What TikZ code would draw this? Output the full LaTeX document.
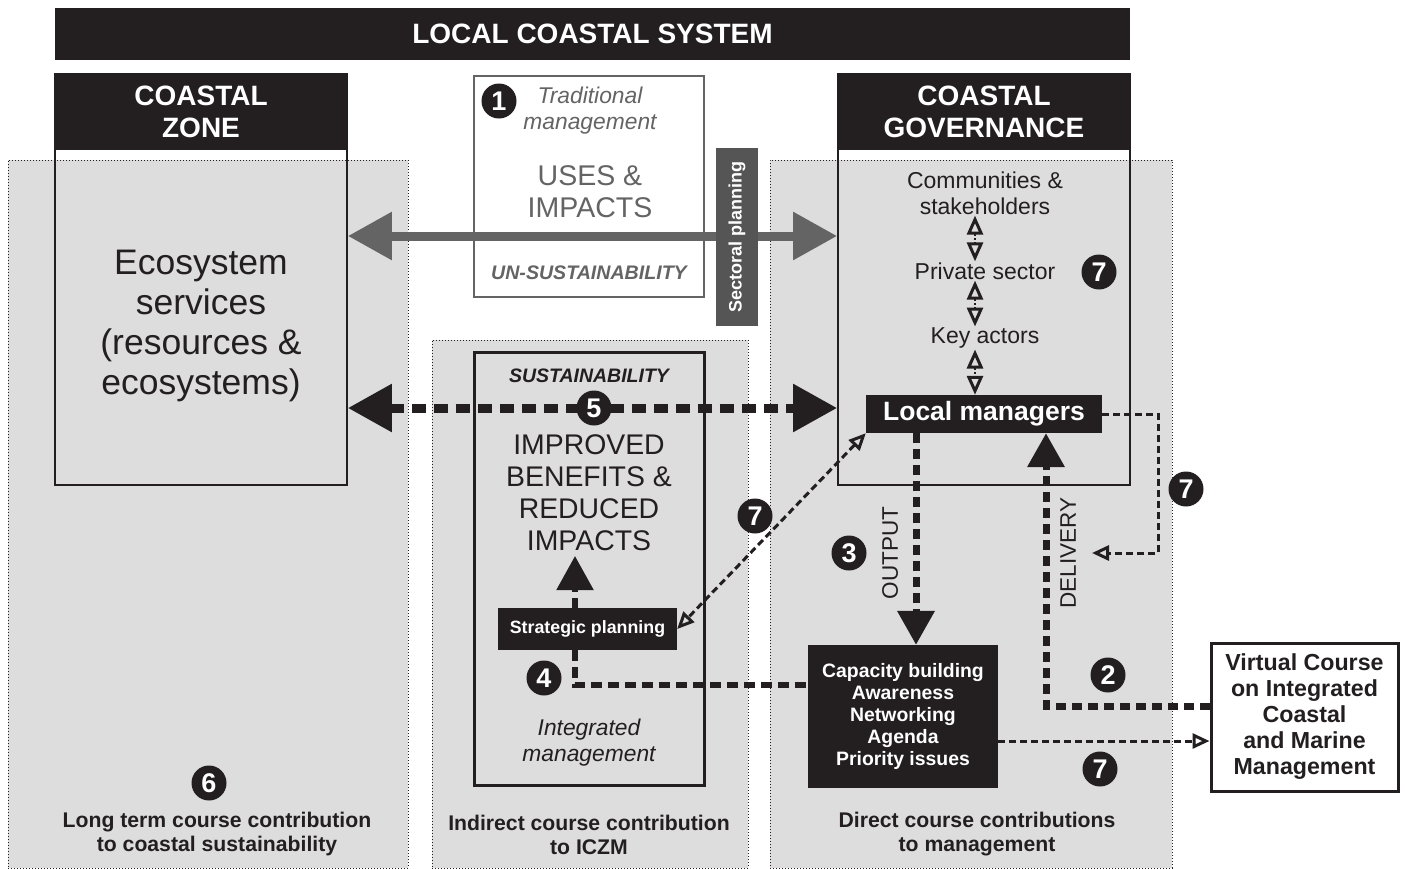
\documentclass[tikz,border=0pt]{standalone}
\usepackage{fontspec}
\setmainfont{Liberation Sans}
\usetikzlibrary{arrows.meta,calc}
\definecolor{ink}{RGB}{35,31,32}
\definecolor{panelgray}{RGB}{221,221,221}
\definecolor{midgray}{RGB}{100,100,100}
\definecolor{secgray}{RGB}{85,85,85}
\newcommand\myfs[2]{\fontsize{#1}{#2}\selectfont}
\begin{document}
\begin{tikzpicture}[x=1pt,y=-1pt,
 panel/.style={fill=panelgray, draw=ink, line width=1pt, dash pattern=on 1pt off 2pt, inner sep=0pt},
 frame/.style={draw=ink, line width=1.8pt, inner sep=0pt},
 hdr/.style={fill=ink, text=white, font=\myfs{28}{32}\bfseries, align=center, inner sep=0pt},
 blk/.style={fill=ink, text=white, align=center, inner sep=0pt},
 txt/.style={inner sep=1pt, align=center, text=ink},
 num/.style={circle, fill=ink, text=white, font=\myfs{27}{27}\bfseries, minimum size=35pt, inner sep=0pt},
 bigtip/.tip={Triangle[length=44pt,width=46pt]},
 medtip/.tip={Triangle[length=34pt,width=36pt]},
 opentip/.tip={Triangle[open,length=17pt,width=15pt,line width=3pt]},
 smalltip/.tip={Triangle[open,length=19pt,width=16pt,line width=3pt]},
 grayarr/.style={draw=midgray, line width=9pt, bigtip-bigtip},
 blkarr/.style={draw=ink, line width=9pt, dash pattern=on 14pt off 8pt, bigtip-bigtip},
 medarr/.style={draw=ink, line width=7pt, dash pattern=on 10pt off 6pt, -medtip},
 dashfour/.style={draw=ink, line width=5.5pt, dash pattern=on 11pt off 6pt},
 thinseven/.style={draw=ink, line width=3pt, dash pattern=on 7pt off 4pt},
 dbl/.style={draw=ink, line width=2pt, dash pattern=on 2pt off 2pt, smalltip-smalltip},
 bottomlbl/.style={txt, font=\myfs{21.2}{24}\bfseries},
]
\useasboundingbox (0,0) rectangle (1405,868);

% background panels
\node[panel, minimum width=400pt, minimum height=708pt] (lp) at (208,514) {};
\node[panel, minimum width=316pt, minimum height=528pt] (mp) at (590,604) {};
\node[panel, minimum width=402pt, minimum height=708pt] (rp) at (971,514) {};

% top bar
\node[hdr, minimum width=1075pt, minimum height=52pt] (lcs) at (592.5,34) {LOCAL COASTAL SYSTEM};

% coastal zone
\node[frame, minimum width=292pt, minimum height=411pt] (czf) at (201,279.5) {};
\node[hdr, minimum width=292pt, minimum height=76pt] (czh) at (201,112) {COASTAL\\ZONE};
\node[txt, font=\myfs{35.5}{40}] (eco) at (201,326) {Ecosystem\\services\\(resources \&\\ecosystems)};

% coastal governance
\node[frame, minimum width=292pt, minimum height=411pt] (gvf) at (984,279.5) {};
\node[hdr, minimum width=292pt, minimum height=76pt] (gvh) at (984,112) {COASTAL\\GOVERNANCE};

% uses box
\node[draw=midgray, line width=2.5pt, fill=white, minimum width=230pt, minimum height=221pt, inner sep=0pt] (uses) at (589,186.5) {};
\node[txt, text=midgray, font=\myfs{22.8}{26}\itshape] (trad) at (590,111) {Traditional\\management};
\node[txt, text=midgray, font=\myfs{28.5}{32}] (ui) at (590,192) {USES \&\\IMPACTS};
\node[txt, text=midgray, font=\myfs{19.6}{22}\bfseries\itshape] (uns) at (589,273) {UN-SUSTAINABILITY};

\coordinate (row1) at (0,236);
\draw[grayarr] (czf.east |- row1) -- (gvf.west |- row1);
\node[rotate=90, fill=secgray, text=white, font=\myfs{18}{20}\bfseries, minimum width=178pt, minimum height=42pt, inner sep=0pt] (sec) at (737,237) {Sectoral planning};

% inner sustainability box
\node[draw=ink, line width=3pt, minimum width=230pt, minimum height=433pt, inner sep=0pt] (ib) at (589,568.5) {};
\node[txt, font=\myfs{19.5}{22}\bfseries\itshape] (sus) at (589,376) {SUSTAINABILITY};
\node[txt, font=\myfs{28.4}{32}] (ibr) at (589,493) {IMPROVED\\BENEFITS \&\\REDUCED\\IMPACTS};
\node[txt, font=\myfs{22.8}{26}\itshape] (im) at (589,743) {Integrated\\management};

\coordinate (row5) at (0,408);
\draw[blkarr] (czf.east |- row5) -- (gvf.west |- row5);

% governance actors
\node[txt, font=\myfs{23}{26}] (comm) at (985,193) {Communities \&\\stakeholders};
\node[txt, font=\myfs{23}{26}] (priv) at (985,271) {Private sector};
\node[txt, font=\myfs{23}{26}] (key) at (985,338) {Key actors};
\node[blk, font=\myfs{26.5}{30}\bfseries, minimum width=236pt, minimum height=38pt] (lm) at (984,414) {Local managers};
\draw[dbl] ([xshift=-10pt]comm.south) -- ([xshift=-10pt]priv.north);
\draw[dbl] ([xshift=-10pt]priv.south) -- ([xshift=-10pt]key.north);
\draw[dbl] ([xshift=-10pt]key.south) -- (lm.north -| {$(key.south)+(-10,0)$});

% black boxes
\node[blk, font=\myfs{17.8}{20}\bfseries, minimum width=179pt, minimum height=42pt] (sp) at (587.5,629) {Strategic planning};
\node[blk, font=\myfs{19.4}{22}\bfseries, minimum width=190pt, minimum height=143pt] (cap) at (903,716.5) {Capacity building\\Awareness\\Networking\\Agenda\\Priority issues};
\node[draw=ink, line width=3pt, fill=white, text=ink, align=center, font=\myfs{23.2}{26}\bfseries, minimum width=187pt, minimum height=148pt, inner sep=0pt] (vc) at (1304.5,717) {Virtual Course\\on Integrated\\Coastal\\and Marine\\Management};

% connectors
\coordinate (ox) at (916,0);
\draw[medarr] (lm.south -| ox) -- (cap.north -| ox);
\coordinate (dl) at (1046,706);
\draw[medarr] (vc.west |- dl) -- (dl) -- (dl |- lm.south);
\coordinate (spup) at (575,556);
\draw[medarr, line width=5.5pt] (sp.north -| spup) -- (spup);
\coordinate (c4) at (575,685);
\draw[dashfour] (sp.south -| c4) -- (c4) -- (cap.west |- c4);

\coordinate (d7) at (1092,553);
\draw[thinseven, -opentip] (lm.east) -- ++(56,0) |- (d7);
\coordinate (r7) at (0,741);
\draw[thinseven, -opentip] (cap.east |- r7) -- (vc.west |- r7);
\draw[thinseven, opentip-opentip] (lm.south west) -- (sp.east);

% rotated labels
\node[txt, rotate=90, font=\myfs{22.5}{26}] (outl) at (890,553) {OUTPUT};
\node[txt, rotate=90, font=\myfs{22.5}{26}] (dell) at (1068,553) {DELIVERY};

% numbers
\node[num] (n1) at (499,101) {1};
\node[num] (n7a) at (1099,272) {7};
\node[num] (n5) at (594,408) {5};
\node[num] (n7b) at (755,516) {7};
\node[num] (n3) at (849,553) {3};
\node[num] (n7c) at (1186,489) {7};
\node[num] (n4) at (544,678) {4};
\node[num] (n2) at (1108,675) {2};
\node[num] (n7d) at (1100,769) {7};
\node[num] (n6) at (209,783) {6};

% bottom labels
\node[bottomlbl] (bl) at (217,834) {Long term course contribution\\to coastal sustainability};
\node[bottomlbl] (bm) at (589,835) {Indirect course contribution\\to ICZM};
\node[bottomlbl] (br) at (977,834) {Direct course contributions\\to management};
\end{tikzpicture}
\end{document}
